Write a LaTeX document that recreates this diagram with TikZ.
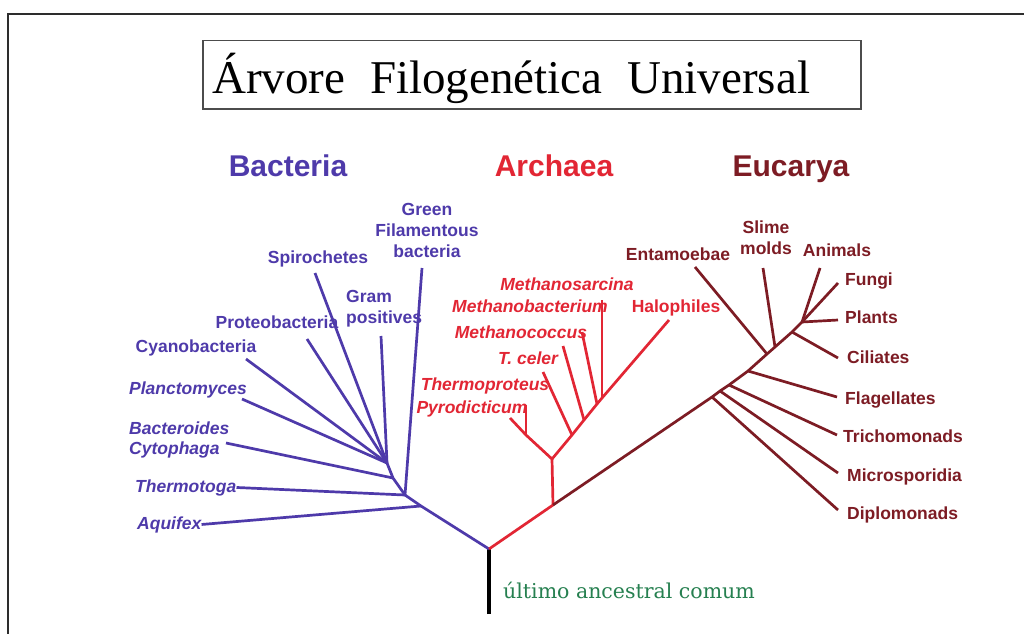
\documentclass[tikz,border=0pt]{standalone}
\usepackage{fontspec}
\setmainfont{Liberation Sans}
\newfontfamily\titlefont{Liberation Serif}
\newfontfamily\ancfont{DejaVu Serif}
\definecolor{bact}{RGB}{78,58,170}
\definecolor{arch}{RGB}{226,38,52}
\definecolor{euk}{RGB}{125,28,36}
\definecolor{anc}{RGB}{38,128,80}
\definecolor{framecol}{RGB}{45,45,45}
\begin{document}
\begin{tikzpicture}[x=1pt,y=-1pt,
  lbl/.style={font=\fontsize{17.5}{21}\selectfont\bfseries, inner sep=0pt},
  ilbl/.style={font=\fontsize{17.5}{21}\selectfont\bfseries\itshape, inner sep=0pt},
  head/.style={font=\fontsize{30}{34}\selectfont\bfseries, inner sep=0pt, anchor=base},
  bl/.style={draw=bact, line width=2.7pt},
  al/.style={draw=arch, line width=2.7pt},
  el/.style={draw=euk, line width=2.7pt},
]
\useasboundingbox[fill=white] (0,0) rectangle (1024,634);
% frame
\draw[framecol, line width=2.5pt] (1024,14) -- (8,14) -- (8,634);
% title
\node[draw=gray!60!black, line width=1.5pt, minimum width=658pt, minimum height=68pt, anchor=north west, inner sep=0pt] (titlebox) at (202,40) {};
\node[font=\titlefont\fontsize{47}{50}\selectfont, anchor=base west, inner sep=0pt] (title) at (212,93) {Árvore\hspace{0.53em}Filogenética\hspace{0.53em}Universal};
% headings
\node[head,text=bact] (hb) at (288,176) {Bacteria};
\node[head,text=arch] (ha) at (554,176) {Archaea};
\node[head,text=euk] (he) at (791,176) {Eucarya};

% ---------- coordinates of the tree ----------
\coordinate (root) at (489,549);
\coordinate (rootbot) at (489,614);
\coordinate (B0) at (405,495);
\coordinate (Baq) at (421,506);
\coordinate (B1) at (387,463);
\coordinate (Bbac) at (393,478);
\coordinate (AE) at (553,505);
\coordinate (A0) at (552,459);
\coordinate (Apyro) at (526,435);
\coordinate (Atc) at (572,435);
\coordinate (Amc) at (584,420);
\coordinate (Amb) at (597,404);
\coordinate (Ams) at (602,398);
\coordinate (E1) at (712,397);
\coordinate (Emi) at (720,391);
\coordinate (Etr) at (729,385);
\coordinate (Efl) at (748,371);
\coordinate (Een) at (767,354);
\coordinate (Esl) at (775,347);
\coordinate (Eci) at (792,332);
\coordinate (Ecr) at (802,322);

% tips
\coordinate (tGreen) at (422,268);
\coordinate (tSpiro) at (315,273);
\coordinate (tGram) at (381,336);
\coordinate (tProteo) at (307,339);
\coordinate (tCyano) at (246,359);
\coordinate (tPlanc) at (242,399);
\coordinate (tBacter) at (226,443);
\coordinate (tTprot) at (510,418);
\coordinate (tPyro) at (526,405);
\coordinate (tTc) at (543,372);
\coordinate (tMc) at (563,346);
\coordinate (tMb) at (582,332);
\coordinate (tMs) at (602,300);
\coordinate (tHalo) at (669,320);
\coordinate (tEnt) at (695,267);
\coordinate (tSlime) at (763,268);
\coordinate (tAnim) at (820,268);
\coordinate (tFungi) at (838,283);
\coordinate (tPlants) at (838,320);
\coordinate (tCil) at (838,358);
\coordinate (tFlag) at (837,397);
\coordinate (tTrich) at (837,435);
\coordinate (tMicro) at (838,473);
\coordinate (tDiplo) at (838,510);

% ---------- labels ----------
% Bacteria
\node[lbl,text=bact,align=center] (green) at (427,230) {Green\\Filamentous\\bacteria};
\node[lbl,text=bact,anchor=base] (spiro) at (318,263) {Spirochetes};
\node[lbl,text=bact,anchor=west,align=left] (gram) at (346,309) {Gram\\positives};
\node[lbl,text=bact,anchor=base] (proteo) at (277,328) {Proteobacteria};
\node[lbl,text=bact,anchor=base] (cyano) at (196,352) {Cyanobacteria};
\node[ilbl,text=bact,anchor=base] (planc) at (188,394) {Planctomyces};
\node[ilbl,text=bact,anchor=base west] (bacter) at (129,434) {Bacteroides};
\node[ilbl,text=bact,anchor=base west] (cyto) at (129,454) {Cytophaga};
\node[ilbl,text=bact,anchor=base west] (thermo) at (135,492) {Thermotoga};
\node[ilbl,text=bact,anchor=base west] (aquif) at (137,529) {Aquifex};
% Archaea
\node[ilbl,text=arch,anchor=base] (msarc) at (567,290) {Methanosarcina};
\node[ilbl,text=arch,anchor=base] (mbact) at (530,312) {Methanobacterium};
\node[ilbl,text=arch,anchor=base] (mcocc) at (521,338) {Methanococcus};
\node[ilbl,text=arch,anchor=base] (tceler) at (528,364) {T. celer};
\node[ilbl,text=arch,anchor=base] (tprot) at (485,390) {Thermoproteus};
\node[ilbl,text=arch,anchor=base] (pyro) at (472,413) {Pyrodicticum};
\node[lbl,text=arch,anchor=base] (halo) at (676,312) {Halophiles};
% Eucarya
\node[lbl,text=euk,anchor=base] (ent) at (678,260) {Entamoebae};
\node[lbl,text=euk,align=center] (slime) at (766,238) {Slime\\molds};
\node[lbl,text=euk,anchor=base] (anim) at (837,256) {Animals};
\node[lbl,text=euk,anchor=base west] (fungi) at (845,285) {Fungi};
\node[lbl,text=euk,anchor=base west] (plants) at (845,323) {Plants};
\node[lbl,text=euk,anchor=base west] (cil) at (847,363) {Ciliates};
\node[lbl,text=euk,anchor=base west] (flag) at (845,404) {Flagellates};
\node[lbl,text=euk,anchor=base west] (trich) at (843,442) {Trichomonads};
\node[lbl,text=euk,anchor=base west] (micro) at (847,481) {Microsporidia};
\node[lbl,text=euk,anchor=base west] (diplo) at (847,519) {Diplomonads};
% ancestor
\node[font=\ancfont\fontsize{20.5}{24}\selectfont, text=anc, anchor=base west, inner sep=0pt] (ancl) at (503,598) {último ancestral comum};

% ---------- branches ----------
\draw[black, line width=3.5pt] (rootbot) -- (root);
% Bacteria
\draw[bl] (root) -- (Baq) -- (B0);
\draw[bl] (Baq) -- (aquif.east);
\draw[bl] (B0) -- (thermo.east);
\draw[bl] (B0) -- (tGreen);
\draw[bl] (B0) -- (Bbac) -- (B1);
\draw[bl] (Bbac) -- (tBacter);
\draw[bl] (B1) -- (tPlanc);
\draw[bl] (B1) -- (tCyano);
\draw[bl] (B1) -- (tProteo);
\draw[bl] (B1) -- (tSpiro);
\draw[bl] (B1) -- (tGram);
% Archaea
\draw[al] (root) -- (AE) -- (A0);
\draw[al] (A0) -- (Apyro) -- (tTprot);
\draw[al] (Apyro) -- (tPyro);
\draw[al] (A0) -- (Atc) -- (Amc) -- (Amb) -- (Ams) -- (tHalo);
\draw[al] (Atc) -- (tTc);
\draw[al] (Amc) -- (tMc);
\draw[al] (Amb) -- (tMb);
\draw[al] (Ams) -- (tMs);
% Eucarya
\draw[el] (AE) -- (E1) -- (Emi) -- (Etr) -- (Efl) -- (Een) -- (Esl) -- (Eci) -- (Ecr);
\draw[el] (E1) -- (tDiplo);
\draw[el] (Emi) -- (tMicro);
\draw[el] (Etr) -- (tTrich);
\draw[el] (Efl) -- (tFlag);
\draw[el] (Een) -- (tEnt);
\draw[el] (Esl) -- (tSlime);
\draw[el] (Eci) -- (tCil);
\draw[el] (Ecr) -- (tPlants);
\draw[el] (Ecr) -- (tFungi);
\draw[el] (Ecr) -- (tAnim);
\end{tikzpicture}
\end{document}
